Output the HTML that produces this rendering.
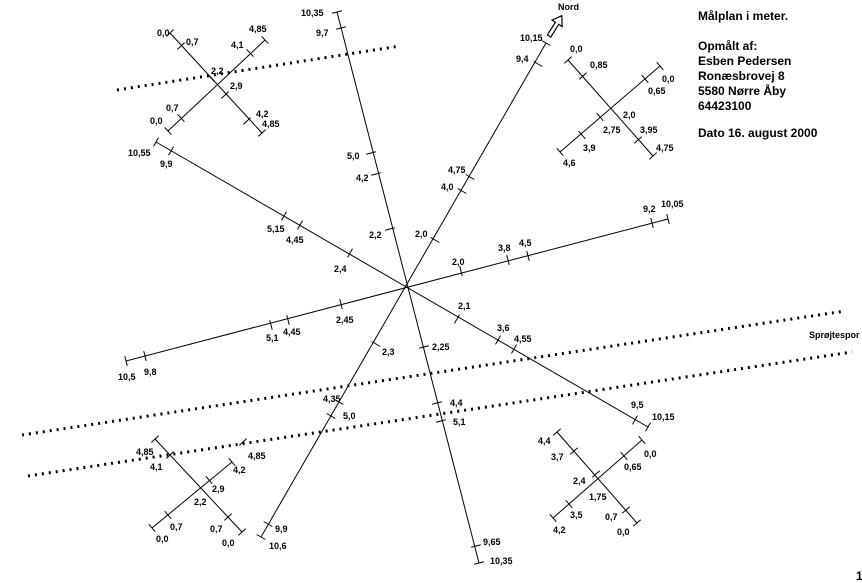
<!DOCTYPE html>
<html><head><meta charset="utf-8"><style>
body{margin:0;background:#fff;width:862px;height:583px;overflow:hidden}
svg{display:block}
text{font-family:"Liberation Sans",Arial,sans-serif;font-weight:bold;font-size:9px;fill:#000}
.h{font-size:12px}
line{stroke:#000;stroke-width:1}
.dot{stroke:#000;stroke-width:3;stroke-dasharray:2 5;stroke-linecap:butt}
</style></head><body>
<svg width="862" height="583" viewBox="0 0 862 583" xmlns="http://www.w3.org/2000/svg">
<defs><line id="t" x1="0" y1="-5" x2="0" y2="5"/></defs>
<line class="dot" x1="117" y1="90" x2="400" y2="46"/>
<line class="dot" x1="22" y1="435" x2="845" y2="311"/>
<line class="dot" x1="28" y1="476" x2="852" y2="352"/>
<line x1="337" y1="12" x2="479" y2="563"/>
<line x1="546" y1="43" x2="261" y2="537"/>
<line x1="156" y1="142" x2="648" y2="427"/>
<line x1="126" y1="361" x2="668" y2="219"/>
<use href="#t" transform="translate(337,12) rotate(75.5)"/>
<use href="#t" transform="translate(341,28) rotate(75.5)"/>
<use href="#t" transform="translate(371,153) rotate(75.5)"/>
<use href="#t" transform="translate(376,174) rotate(75.5)"/>
<use href="#t" transform="translate(390,229) rotate(75.5)"/>
<use href="#t" transform="translate(424,347) rotate(75.5)"/>
<use href="#t" transform="translate(437,403) rotate(75.5)"/>
<use href="#t" transform="translate(441,421) rotate(75.5)"/>
<use href="#t" transform="translate(476,546) rotate(75.5)"/>
<use href="#t" transform="translate(479,563) rotate(75.5)"/>
<use href="#t" transform="translate(546,43) rotate(-60)"/>
<use href="#t" transform="translate(538,64) rotate(-60)"/>
<use href="#t" transform="translate(470,177) rotate(-60)"/>
<use href="#t" transform="translate(462,191) rotate(-60)"/>
<use href="#t" transform="translate(435,240) rotate(-60)"/>
<use href="#t" transform="translate(376,344) rotate(-60)"/>
<use href="#t" transform="translate(339,402) rotate(-60)"/>
<use href="#t" transform="translate(331,416) rotate(-60)"/>
<use href="#t" transform="translate(268,524) rotate(-60)"/>
<use href="#t" transform="translate(261,537) rotate(-60)"/>
<use href="#t" transform="translate(156,142) rotate(30)"/>
<use href="#t" transform="translate(171,151) rotate(30)"/>
<use href="#t" transform="translate(284,216) rotate(30)"/>
<use href="#t" transform="translate(300,225) rotate(30)"/>
<use href="#t" transform="translate(350,253) rotate(30)"/>
<use href="#t" transform="translate(457,319) rotate(30)"/>
<use href="#t" transform="translate(498,340) rotate(30)"/>
<use href="#t" transform="translate(514,349) rotate(30)"/>
<use href="#t" transform="translate(635,420) rotate(30)"/>
<use href="#t" transform="translate(648,427) rotate(30)"/>
<use href="#t" transform="translate(126,361) rotate(-14.6)"/>
<use href="#t" transform="translate(145,356) rotate(-14.6)"/>
<use href="#t" transform="translate(271,325) rotate(-14.6)"/>
<use href="#t" transform="translate(288,320) rotate(-14.6)"/>
<use href="#t" transform="translate(341,304) rotate(-14.6)"/>
<use href="#t" transform="translate(461,271) rotate(-14.6)"/>
<use href="#t" transform="translate(508,260) rotate(-14.6)"/>
<use href="#t" transform="translate(528,256) rotate(-14.6)"/>
<use href="#t" transform="translate(652,223) rotate(-14.6)"/>
<use href="#t" transform="translate(668,219) rotate(-14.6)"/>
<!-- TL cross -->
<line x1="170" y1="33" x2="262" y2="133"/>
<line x1="168" y1="131" x2="265" y2="40"/>
<use href="#t" transform="translate(170,33) rotate(47)"/>
<use href="#t" transform="translate(181,46) rotate(47)"/>
<use href="#t" transform="translate(247,121) rotate(47)"/>
<use href="#t" transform="translate(262,133) rotate(47)"/>
<use href="#t" transform="translate(225,95) rotate(47)"/>
<use href="#t" transform="translate(168,131) rotate(-43)"/>
<use href="#t" transform="translate(181,118) rotate(-43)"/>
<use href="#t" transform="translate(250,53) rotate(-43)"/>
<use href="#t" transform="translate(265,40) rotate(-43)"/>
<use href="#t" transform="translate(211,78) rotate(-43)"/>
<text x="157" y="36">0,0</text><text x="186" y="45">0,7</text>
<text x="249" y="32">4,85</text><text x="231" y="48">4,1</text>
<text x="211" y="74">2,2</text><text x="230" y="89">2,9</text>
<text x="166" y="111">0,7</text><text x="150" y="124">0,0</text>
<text x="256" y="117">4,2</text><text x="262" y="127">4,85</text>
<!-- TR cross -->
<line x1="568" y1="60" x2="653" y2="156"/>
<line x1="560" y1="152" x2="660" y2="66"/>
<use href="#t" transform="translate(568,60) rotate(48)"/>
<use href="#t" transform="translate(583,76) rotate(48)"/>
<use href="#t" transform="translate(638,140) rotate(48)"/>
<use href="#t" transform="translate(653,156) rotate(48)"/>
<use href="#t" transform="translate(560,152) rotate(-41)"/>
<use href="#t" transform="translate(582,135) rotate(-41)"/>
<use href="#t" transform="translate(600,117) rotate(-41)"/>
<use href="#t" transform="translate(645,79) rotate(-41)"/>
<use href="#t" transform="translate(660,66) rotate(-41)"/>
<text x="570" y="52">0,0</text><text x="590" y="68">0,85</text>
<text x="662" y="82">0,0</text><text x="648" y="94">0,65</text>
<text x="623" y="118">2,0</text><text x="603" y="133">2,75</text>
<text x="640" y="133">3,95</text><text x="656" y="151">4,75</text>
<text x="583" y="151">3,9</text><text x="563" y="166">4,6</text>
<!-- BL cross -->
<line x1="155" y1="439" x2="242" y2="532"/>
<line x1="152" y1="528" x2="232" y2="462"/>
<use href="#t" transform="translate(155,439) rotate(47)"/>
<use href="#t" transform="translate(170,455) rotate(47)"/>
<use href="#t" transform="translate(228,517) rotate(47)"/>
<use href="#t" transform="translate(242,532) rotate(47)"/>
<use href="#t" transform="translate(152,528) rotate(-40)"/>
<use href="#t" transform="translate(168,515) rotate(-40)"/>
<use href="#t" transform="translate(209,480) rotate(-40)"/>
<use href="#t" transform="translate(232,462) rotate(-40)"/>
<use href="#t" transform="translate(243,442) rotate(47)"/>
<text x="136" y="455">4,85</text><text x="150" y="470">4,1</text>
<text x="248" y="459">4,85</text><text x="233" y="473">4,2</text>
<text x="212" y="492">2,9</text><text x="194" y="505">2,2</text>
<text x="170" y="530">0,7</text><text x="156" y="542">0,0</text>
<text x="210" y="532">0,7</text><text x="222" y="546">0,0</text>
<!-- BR cross -->
<line x1="557" y1="432" x2="637" y2="523"/>
<line x1="553" y1="518" x2="642" y2="440"/>
<use href="#t" transform="translate(557,432) rotate(49)"/>
<use href="#t" transform="translate(574,451) rotate(49)"/>
<use href="#t" transform="translate(626,510) rotate(49)"/>
<use href="#t" transform="translate(637,523) rotate(49)"/>
<use href="#t" transform="translate(553,518) rotate(-41)"/>
<use href="#t" transform="translate(569,504) rotate(-41)"/>
<use href="#t" transform="translate(624,456) rotate(-41)"/>
<use href="#t" transform="translate(642,440) rotate(-41)"/>
<use href="#t" transform="translate(596,474) rotate(49)"/>
<text x="538" y="444">4,4</text><text x="551" y="460">3,7</text>
<text x="644" y="457">0,0</text><text x="624" y="470">0,65</text>
<text x="573" y="484">2,4</text><text x="589" y="500">1,75</text>
<text x="570" y="518">3,5</text><text x="605" y="520">0,7</text>
<text x="553" y="533">4,2</text><text x="617" y="535">0,0</text>
<!-- main labels -->
<text x="301" y="16">10,35</text><text x="316" y="36">9,7</text>
<text x="347" y="159">5,0</text><text x="356" y="181">4,2</text>
<text x="369" y="238">2,2</text><text x="432" y="350">2,25</text>
<text x="450" y="406">4,4</text><text x="453" y="425">5,1</text>
<text x="483" y="545">9,65</text><text x="490" y="564">10,35</text>
<text x="520" y="41">10,15</text><text x="516" y="62">9,4</text>
<text x="448" y="173">4,75</text><text x="441" y="190">4,0</text>
<text x="415" y="237">2,0</text><text x="382" y="355">2,3</text>
<text x="323" y="402">4,35</text><text x="343" y="419">5,0</text>
<text x="275" y="532">9,9</text><text x="269" y="549">10,6</text>
<text x="128" y="156">10,55</text><text x="160" y="167">9,9</text>
<text x="267" y="232">5,15</text><text x="286" y="243">4,45</text>
<text x="334" y="272">2,4</text><text x="458" y="309">2,1</text>
<text x="497" y="331">3,6</text><text x="514" y="342">4,55</text>
<text x="631" y="408">9,5</text><text x="652" y="420">10,15</text>
<text x="118" y="380">10,5</text><text x="144" y="375">9,8</text>
<text x="266" y="341">5,1</text><text x="283" y="335">4,45</text>
<text x="336" y="323">2,45</text><text x="452" y="265">2,0</text>
<text x="498" y="251">3,8</text><text x="519" y="246">4,5</text>
<text x="643" y="212">9,2</text><text x="661" y="207">10,05</text>
<text x="809" y="338">Sprøjtespor</text>
<!-- north arrow -->
<g transform="translate(556,25) rotate(32)">
<polygon points="0,-11 6,-2 2,-2 2,13 -2,13 -2,-2 -6,-2" fill="#fff" stroke="#000" stroke-width="1.2"/>
</g>
<text x="558" y="10">Nord</text>
<text class="h" x="698" y="20">Målplan i meter.</text>
<text class="h" x="698" y="50">Opmålt af:</text>
<text class="h" x="698" y="65">Esben Pedersen</text>
<text class="h" x="698" y="80">Ronæsbrovej 8</text>
<text class="h" x="698" y="95">5580 Nørre Åby</text>
<text class="h" x="698" y="110">64423100</text>
<text class="h" x="698" y="137">Dato 16. august 2000</text>
<text class="h" x="856" y="580">1</text>
</svg>
</body></html>
